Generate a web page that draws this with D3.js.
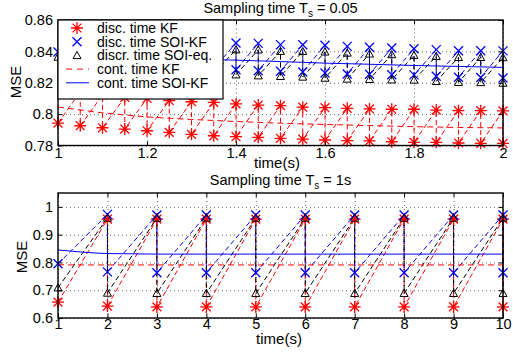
<!DOCTYPE html>
<html>
<head>
<meta charset="utf-8">
<script src="https://cdn.jsdelivr.net/npm/d3@7"></script>
<style>
  body { margin: 0; background: #fff; }
  svg { display: block; font-family: "Liberation Sans", Arial, sans-serif; }
</style>
</head>
<body>
<svg id="fig" width="513" height="356"></svg>
<script>
// ---- top panel data (Ts = 0.05) ----
var tTop = [1, 1.05, 1.1, 1.15, 1.2, 1.25, 1.3, 1.35, 1.4, 1.45, 1.5, 1.55, 1.6, 1.65, 1.7, 1.75, 1.8, 1.85, 1.9, 1.95, 2];
// posterior (after update) at every sample, prior (before update) from the 2nd sample on
var kfPostTop  = [0.7943, 0.7926, 0.7913, 0.7905, 0.7894, 0.7884, 0.7871, 0.7862, 0.7856, 0.7852, 0.7846, 0.7841, 0.7835, 0.7831, 0.7829, 0.7824, 0.7820, 0.7820, 0.7816, 0.7814, 0.7813];
var kfPriorTop = [0.8141, 0.8122, 0.8107, 0.8100, 0.8087, 0.8079, 0.8075, 0.8065, 0.8058, 0.8054, 0.8044, 0.8041, 0.8037, 0.8033, 0.8031, 0.8031, 0.8026, 0.8022, 0.8022, 0.8021];
var soiPostTop  = [0.8396, 0.8368, 0.8348, 0.8332, 0.8318, 0.8307, 0.8298, 0.8290, 0.8283, 0.8277, 0.8273, 0.8269, 0.8262, 0.8256, 0.8254, 0.8251, 0.8250, 0.8241, 0.8235, 0.8234, 0.8230];
var soiPriorTop = [0.8490, 0.8482, 0.8476, 0.8470, 0.8465, 0.8461, 0.8457, 0.8453, 0.8451, 0.8443, 0.8442, 0.8439, 0.8432, 0.8426, 0.8422, 0.8417, 0.8411, 0.8404, 0.8404, 0.8403];
var eqPostTop  = [0.8364, 0.8336, 0.8316, 0.8300, 0.8287, 0.8276, 0.8267, 0.8259, 0.8251, 0.8245, 0.8241, 0.8237, 0.8230, 0.8224, 0.8222, 0.8219, 0.8218, 0.8209, 0.8203, 0.8202, 0.8198];
var eqPriorTop = [0.8448, 0.8440, 0.8434, 0.8428, 0.8423, 0.8419, 0.8415, 0.8411, 0.8410, 0.8401, 0.8400, 0.8397, 0.8390, 0.8384, 0.8380, 0.8375, 0.8369, 0.8362, 0.8362, 0.8361];
var tContTop = [1, 1.1, 1.2, 1.3, 1.4, 1.5, 1.6, 1.7, 1.8, 1.9, 2];
var contKfTop  = [0.8045, 0.8008, 0.7982, 0.7966, 0.7953, 0.7942, 0.7934, 0.7927, 0.7920, 0.7915, 0.7912];
var contSoiTop = [0.8377, 0.8369, 0.8360, 0.8352, 0.8344, 0.8335, 0.8325, 0.8318, 0.8310, 0.8304, 0.8298];

// ---- bottom panel data (Ts = 1s) ----
var tBot = [1, 2, 3, 4, 5, 6, 7, 8, 9, 10];
var kfPostBot  = [0.657, 0.643, 0.640, 0.640, 0.640, 0.640, 0.640, 0.640, 0.640, 0.640];
var kfPriorBot = [0.956, 0.956, 0.956, 0.956, 0.956, 0.956, 0.956, 0.956, 0.956];
var soiPostBot  = [0.795, 0.766, 0.763, 0.763, 0.763, 0.763, 0.763, 0.763, 0.763, 0.763];
var soiPriorBot = [0.973, 0.971, 0.971, 0.971, 0.971, 0.971, 0.971, 0.971, 0.971];
var eqPostBot  = [0.709, 0.690, 0.689, 0.689, 0.689, 0.689, 0.689, 0.689, 0.689, 0.689];
var eqPriorBot = [0.960, 0.960, 0.960, 0.960, 0.960, 0.960, 0.960, 0.960, 0.960];
var tContBot = [1, 1.25, 1.5, 1.75, 2, 2.5, 3, 4, 5, 6, 7, 8, 9, 10];
var contKfBot  = [0.792, 0.791, 0.791, 0.791, 0.791, 0.791, 0.791, 0.791, 0.791, 0.791, 0.791, 0.791, 0.791, 0.791];
var contSoiBot = [0.845, 0.841, 0.837, 0.834, 0.832, 0.831, 0.830, 0.830, 0.830, 0.830, 0.830, 0.830, 0.830, 0.830];

var legendLabels = ["disc. time KF", "disc. time SOI-KF", "discr. time SOI-eq.", "cont. time KF", "cont. time SOI-KF"];

var RED = "#ff0000", BLUE = "#0000ff", BLACK = "#000000";

var svg = d3.select("#fig");
svg.append("rect").attr("width", 513).attr("height", 356).attr("fill", "#fff");

// build sawtooth: post(t0), prior(t1), post(t1), prior(t2), ...
function saw(t, post, prior) {
  var pts = [[t[0], post[0]]];
  for (var i = 1; i < t.length; i++) {
    pts.push([t[i], prior[i - 1]]);
    pts.push([t[i], post[i]]);
  }
  return pts;
}

// marker drawers
function star(g, x, y, c) {
  var r = 6, d = 4.4;
  g.append("path")
    .attr("d", "M" + (x - r) + "," + y + "H" + (x + r) + "M" + x + "," + (y - r) + "V" + (y + r) +
               "M" + (x - d) + "," + (y - d) + "L" + (x + d) + "," + (y + d) +
               "M" + (x - d) + "," + (y + d) + "L" + (x + d) + "," + (y - d))
    .attr("stroke", c).attr("stroke-width", 1.3).attr("fill", "none");
}
function cross(g, x, y, c) {
  var r = 4.5;
  g.append("path")
    .attr("d", "M" + (x - r) + "," + (y - r) + "L" + (x + r) + "," + (y + r) +
               "M" + (x - r) + "," + (y + r) + "L" + (x + r) + "," + (y - r))
    .attr("stroke", c).attr("stroke-width", 1.3).attr("fill", "none");
}
function tri(g, x, y, c) {
  var r = 4;
  g.append("path")
    .attr("d", "M" + x + "," + (y - r) + "L" + (x + r) + "," + (y + r * 0.8) + "L" + (x - r) + "," + (y + r * 0.8) + "Z")
    .attr("stroke", c).attr("stroke-width", 1).attr("fill", "none");
}

function drawPanel(p) {
  var x = d3.scaleLinear().domain(p.xDomain).range([p.left, p.right]);
  var y = d3.scaleLinear().domain(p.yDomain).range([p.bottom, p.top]);
  var g = svg.append("g");
  var w = p.right - p.left, h = p.bottom - p.top;

  // dotted grid
  g.append("g").attr("transform", "translate(0," + p.bottom + ")")
    .call(d3.axisBottom(x).tickValues(p.xTicks).tickSize(-h).tickFormat(""))
    .call(function (s) { s.select(".domain").remove(); })
    .selectAll("line").attr("stroke", "#666").attr("stroke-dasharray", "1,3");
  g.append("g").attr("transform", "translate(" + p.left + ",0)")
    .call(d3.axisLeft(y).tickValues(p.yTicks).tickSize(-w).tickFormat(""))
    .call(function (s) { s.select(".domain").remove(); })
    .selectAll("line").attr("stroke", "#666").attr("stroke-dasharray", "1,3");

  var line = d3.line().x(function (d) { return x(d[0]); }).y(function (d) { return y(d[1]); });

  // discrete-time sawtooth curves
  p.disc.forEach(function (s) {
    var pts = saw(s.t, s.post, s.prior);
    g.append("path").datum(pts).attr("d", line)
      .attr("fill", "none").attr("stroke", s.color).attr("stroke-width", 1)
      .attr("stroke-dasharray", "5,3");
  });
  // continuous-time curves
  p.cont.forEach(function (s) {
    var pts = s.t.map(function (t, i) { return [t, s.v[i]]; });
    g.append("path").datum(pts).attr("d", line)
      .attr("fill", "none").attr("stroke", s.color).attr("stroke-width", 1)
      .attr("stroke-dasharray", s.dash || null);
  });
  // markers
  p.disc.forEach(function (s) {
    saw(s.t, s.post, s.prior).forEach(function (d) {
      s.marker(g, x(d[0]), y(d[1]), s.color);
    });
  });

  // box + ticks
  g.append("rect").attr("x", p.left).attr("y", p.top).attr("width", w).attr("height", h)
    .attr("fill", "none").attr("stroke", "#000").attr("stroke-width", 1.4);

  var fs = "14.5px";
  var ax = g.append("g").attr("transform", "translate(0," + p.bottom + ")")
    .call(d3.axisBottom(x).tickValues(p.xTicks).tickFormat(function (d, i) { return p.xLabels[i]; })
      .tickSizeInner(-4).tickSizeOuter(0).tickPadding(p.xPad));
  ax.select(".domain").remove();
  ax.selectAll("text").attr("font-size", fs).attr("fill", "#000").attr("font-family", "Liberation Sans, Arial, sans-serif");
  var ay = g.append("g").attr("transform", "translate(" + p.left + ",0)")
    .call(d3.axisLeft(y).tickValues(p.yTicks).tickFormat(function (d, i) { return p.yLabels[i]; })
      .tickSizeInner(-4).tickSizeOuter(0).tickPadding(5));
  ay.select(".domain").remove();
  ay.selectAll("text").attr("font-size", fs).attr("fill", "#000").attr("font-family", "Liberation Sans, Arial, sans-serif");
  g.append("g").attr("transform", "translate(0," + p.top + ")")
    .call(d3.axisTop(x).tickValues(p.xTicks).tickFormat("").tickSizeInner(-4).tickSizeOuter(0))
    .select(".domain").remove();
  g.append("g").attr("transform", "translate(" + p.right + ",0)")
    .call(d3.axisRight(y).tickValues(p.yTicks).tickFormat("").tickSizeInner(-4).tickSizeOuter(0))
    .select(".domain").remove();

  // labels
  g.append("text").attr("x", p.xLabelX).attr("y", p.xLabelY).attr("text-anchor", "middle")
    .attr("font-size", "15px").text("time(s)");
  g.append("text").attr("transform", "translate(" + p.yLabelX + "," + p.yLabelY + ") rotate(-90)")
    .attr("text-anchor", "middle").attr("font-size", "15px").text("MSE");
  var tt = g.append("text").attr("x", (p.left + p.right) / 2).attr("y", p.titleY)
    .attr("text-anchor", "middle").attr("font-size", "14.5px");
  tt.append("tspan").text("Sampling time T");
  tt.append("tspan").attr("font-size", "10px").attr("dy", 4).text("s");
  tt.append("tspan").attr("dy", -4).text(" = " + p.tsText);

  return g;
}

drawPanel({
  left: 58, right: 503, top: 20, bottom: 145.5,
  xDomain: [1, 2], yDomain: [0.78, 0.86],
  xTicks: [1, 1.2, 1.4, 1.6, 1.8, 2], xLabels: ["1", "1.2", "1.4", "1.6", "1.8", "2"],
  yTicks: [0.78, 0.8, 0.82, 0.84, 0.86], yLabels: ["0.78", "0.8", "0.82", "0.84", "0.86"],
  xPad: 2,
  disc: [
    { t: tTop, post: kfPostTop, prior: kfPriorTop, color: RED, marker: star },
    { t: tTop, post: soiPostTop, prior: soiPriorTop, color: BLUE, marker: cross },
    { t: tTop, post: eqPostTop, prior: eqPriorTop, color: BLACK, marker: tri }
  ],
  cont: [
    { t: tContTop, v: contKfTop, color: RED, dash: "6,4" },
    { t: tContTop, v: contSoiTop, color: BLUE }
  ],
  xLabelX: 277, xLabelY: 167.5, yLabelX: 20.5, yLabelY: 82,
  titleY: 13, tsText: "0.05"
});

drawPanel({
  left: 58, right: 503, top: 193, bottom: 318,
  xDomain: [1, 10], yDomain: [0.6, 1.05],
  xTicks: [1, 2, 3, 4, 5, 6, 7, 8, 9, 10], xLabels: ["1", "2", "3", "4", "5", "6", "7", "8", "9", "10"],
  yTicks: [0.6, 0.7, 0.8, 0.9, 1], yLabels: ["0.6", "0.7", "0.8", "0.9", "1"],
  xPad: 1,
  disc: [
    { t: tBot, post: kfPostBot, prior: kfPriorBot, color: RED, marker: star },
    { t: tBot, post: soiPostBot, prior: soiPriorBot, color: BLUE, marker: cross },
    { t: tBot, post: eqPostBot, prior: eqPriorBot, color: BLACK, marker: tri }
  ],
  cont: [
    { t: tContBot, v: contKfBot, color: RED, dash: "6,4" },
    { t: tContBot, v: contSoiBot, color: BLUE }
  ],
  xLabelX: 279, xLabelY: 343.5, yLabelX: 27, yLabelY: 257,
  titleY: 185, tsText: "1s"
});

// legend (top panel)
var lg = svg.append("g");
lg.append("rect").attr("x", 58).attr("y", 20).attr("width", 165).attr("height", 79)
  .attr("fill", "#fff").attr("stroke", "#000").attr("stroke-width", 1.2);
var legendDraw = [
  function (g, yy) { star(g, 77, yy, RED); },
  function (g, yy) { cross(g, 77, yy, BLUE); },
  function (g, yy) { tri(g, 77, yy, BLACK); },
  function (g, yy) { g.append("line").attr("x1", 66).attr("x2", 89).attr("y1", yy).attr("y2", yy)
                      .attr("stroke", RED).attr("stroke-dasharray", "6,5"); },
  function (g, yy) { g.append("line").attr("x1", 66).attr("x2", 89).attr("y1", yy).attr("y2", yy)
                      .attr("stroke", BLUE); }
];
legendLabels.forEach(function (lab, i) {
  var yy = 28 + i * 13.7;
  legendDraw[i](lg, yy);
  lg.append("text").attr("x", 97).attr("y", yy + 5).attr("font-size", "14px").text(lab);
});
</script>
</body>
</html>
